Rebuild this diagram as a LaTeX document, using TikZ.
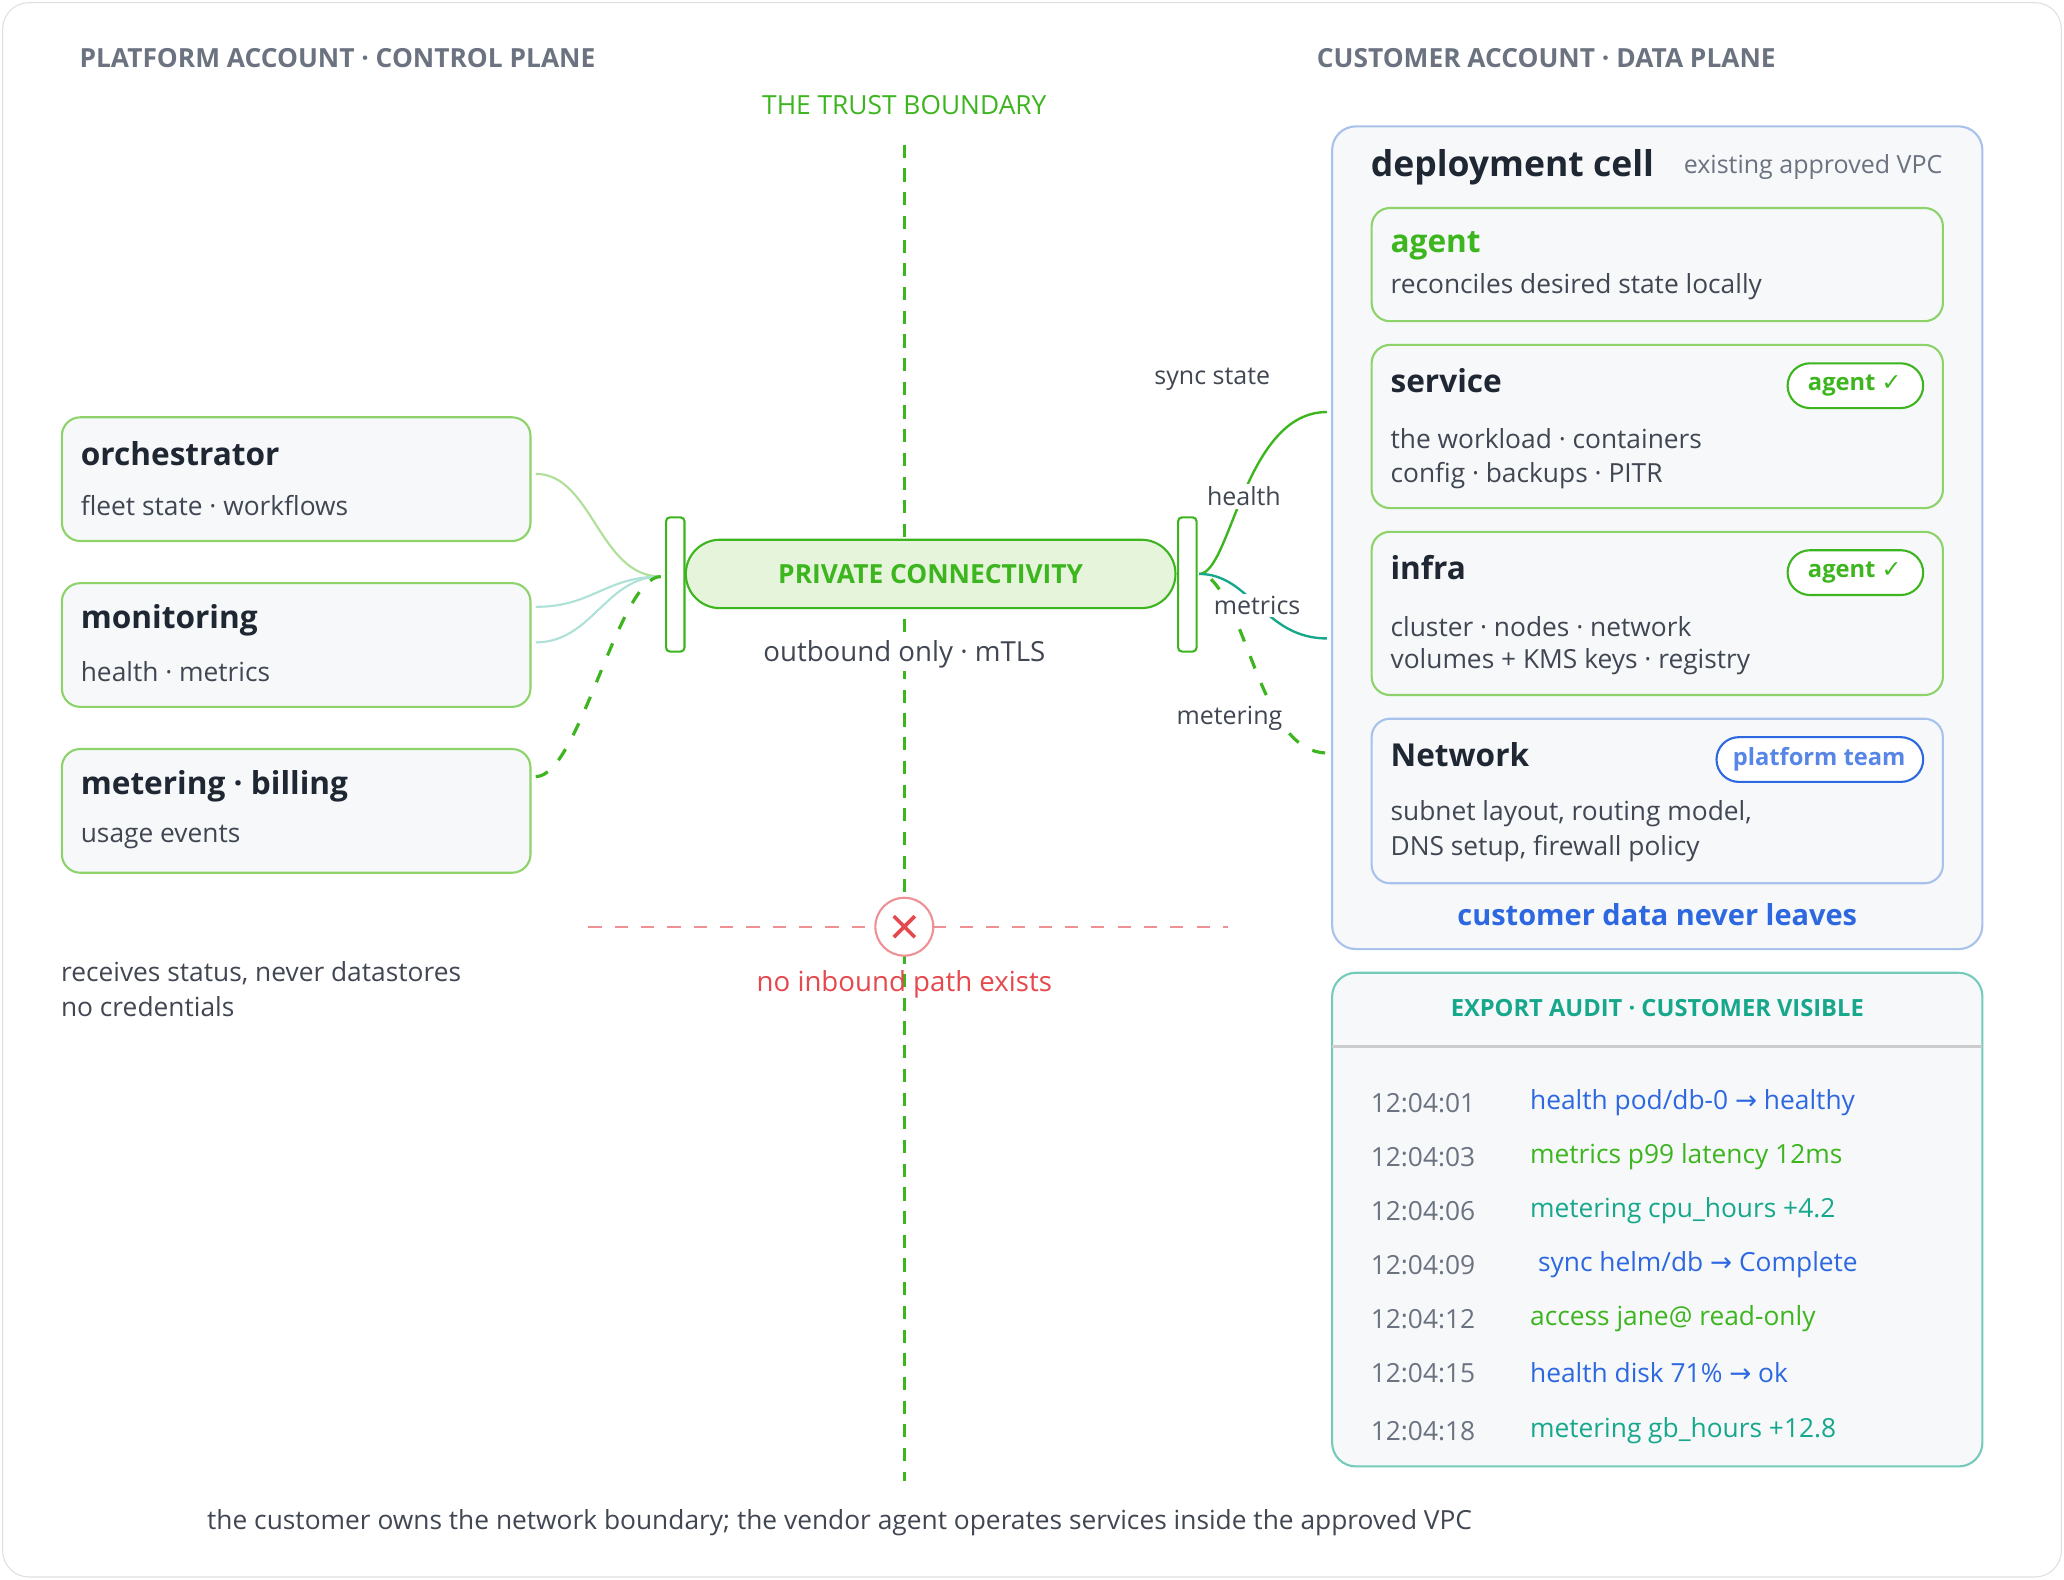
\documentclass[tikz,border=0pt]{standalone}
\usepackage{fontspec}
\setmainfont{Open Sans}
\newfontfamily\djv{DejaVu Sans}
\begin{document}
\definecolor{grn}{HTML}{3DB51E}
\definecolor{lgrn}{HTML}{8ED36A}
\definecolor{pgrn}{HTML}{E5F4DB}
\definecolor{teal}{HTML}{17A88C}
\definecolor{blu}{HTML}{2E68E0}
\definecolor{lblu}{HTML}{A9C2EC}
\definecolor{red1}{HTML}{E5484D}
\definecolor{gry}{HTML}{6B7280}
\definecolor{drk}{HTML}{1F2733}
\definecolor{bgb}{HTML}{F6F8FA}
\begin{tikzpicture}[x=0.5pt,y=-0.5pt,
  box/.style={draw=lgrn,line width=0.8pt,fill=bgb,rounded corners=7pt},
  ttl/.style={anchor=west,font=\bfseries\fontsize{12}{14}\selectfont,text=drk,inner sep=0},
  txt/.style={anchor=west,font=\fontsize{10}{12}\selectfont,text=drk!85,inner sep=0},
  hdr/.style={anchor=west,font=\bfseries\fontsize{10}{12}\selectfont,text=gry,inner sep=0},
  badge/.style={draw=grn,line width=0.8pt,fill=white,rounded corners=8.5pt},
  lbl/.style={font=\fontsize{9.5}{11}\selectfont,text=drk!85,inner sep=0},
  tm/.style={anchor=west,font=\fontsize{10}{12}\selectfont,text=gry,inner sep=0},
  ev/.style={anchor=west,font=\fontsize{10}{12}\selectfont,inner sep=0}]
\useasboundingbox (0,0) rectangle (1568,1200);
\draw[draw=gray!25,fill=white,rounded corners=10pt] (2,2) rectangle (1566,1198);
\node[hdr] (h1) at (60,44) {PLATFORM ACCOUNT · CONTROL PLANE};
\node[hdr] (h2) at (1000,44) {CUSTOMER ACCOUNT · DATA PLANE};
\node[font=\fontsize{10}{12}\selectfont,text=grn,inner sep=0] (tb) at (687,80) {THE TRUST BOUNDARY};
\coordinate (vt) at (687,110); \coordinate (vb) at (687,1125);
\draw[grn,dashed,line width=0.9pt,dash pattern=on 5pt off 4pt] (vt) -- (vb);
% left boxes
\draw[box] (47,317) rectangle (403,411);
\node[ttl] (o1) at (61,345) {orchestrator};
\node[txt] (o2) at (61,384) {fleet state · workflows};
\draw[box] (47,443) rectangle (403,537);
\node[ttl] (m1) at (61,471) {monitoring};
\node[txt] (m2) at (61,510) {health · metrics};
\draw[box] (47,569) rectangle (403,663);
\node[ttl] (b1) at (61,597) {metering · billing};
\node[txt] (b2) at (61,636) {usage events};
% left connectors
\coordinate (lg) at (502,438);
\draw[lgrn!70,line width=0.8pt] (407,360) .. controls (450,360) and (455,438) .. (lg);
\draw[teal!35,line width=0.8pt] (407,461) .. controls (450,461) and (460,438) .. (lg);
\draw[teal!35,line width=0.8pt] (407,488) .. controls (450,488) and (460,438) .. (lg);
\draw[grn,line width=1.2pt,dash pattern=on 5pt off 6pt] (407,590) .. controls (440,590) and (470,438) .. (lg);
% gates and pill
\draw[grn,line width=0.8pt,fill=white,rounded corners=1.5pt] (506,393) rectangle (520,495);
\draw[grn,line width=0.8pt,fill=white,rounded corners=1.5pt] (895,393) rectangle (909,495);
\node[draw=grn,line width=0.8pt,fill=pgrn,rounded corners=13pt,minimum width=186pt,minimum height=26pt,font=\bfseries\fontsize{10}{12}\selectfont,text=grn] (pc) at (707,436) {PRIVATE CONNECTIVITY};
\node[font=\fontsize{10.5}{12}\selectfont,text=drk!85,fill=white,inner sep=1pt] (ob) at (687,497) {outbound only · mTLS};
% right connectors
\coordinate (rg) at (911,436);
\draw[grn,line width=0.9pt] (rg) .. controls (935,436) and (945,313) .. (1008,313);
\draw[teal,line width=0.9pt] (rg) .. controls (950,436) and (960,485) .. (1008,485);
\draw[grn,line width=1.2pt,dash pattern=on 5pt off 6pt] (920,440) .. controls (950,470) and (960,572) .. (1008,572);
\node[lbl] (ls) at (921,288) {sync state};
\node[lbl,fill=white,inner sep=1pt] (lh) at (945,377) {health};
\node[lbl,fill=white,inner sep=1pt] (lm) at (955,460) {metrics};
\node[lbl,fill=white,inner sep=1pt] (lme) at (934,546) {metering};
% no inbound
\draw[red1!60,dashed,line width=0.8pt,dash pattern=on 5pt off 5pt] (447,704) -- (665,704);
\draw[red1!60,dashed,line width=0.8pt,dash pattern=on 5pt off 5pt] (709,704) -- (933,704);
\node[circle,draw=red1!60,line width=0.8pt,fill=white,minimum size=22pt] (x) at (687,704) {};
\draw[red1,line width=1.4pt] (679,696) -- (695,712) (695,696) -- (679,712);
\node[font=\fontsize{10.5}{12}\selectfont,text=red1,inner sep=0] (ni) at (687,748) {no inbound path exists};
\node[txt] (r1) at (46,739) {receives status, never datastores};
\node[txt] (r2) at (46,765) {no credentials};
% deployment cell
\draw[draw=lblu,line width=0.8pt,fill=bgb,rounded corners=9pt] (1012,96) rectangle (1506,721);
\node[anchor=west,font=\bfseries\fontsize{13.5}{15}\selectfont,text=drk,inner sep=0] (dc) at (1041,127) {deployment cell};
\node[anchor=east,font=\fontsize{9.5}{11}\selectfont,text=gry,inner sep=0] (ev) at (1476,127) {existing approved VPC};
\draw[box,fill=bgb] (1042,158) rectangle (1476,244);
\node[ttl,text=grn] (a1) at (1056,187) {agent};
\node[txt] (a2) at (1056,218) {reconciles desired state locally};
\draw[box] (1042,262) rectangle (1476,386);
\node[ttl] (s1) at (1056,289) {service};
\draw[badge] (1358,276) rectangle (1461,310);
\node[font=\bfseries\fontsize{9}{11}\selectfont,text=grn] (s0) at (1409,293) {agent {\djv ✓}};
\node[txt] (s2) at (1056,333) {the workload · containers};
\node[txt] (s3) at (1056,361) {config · backups · PITR};
\draw[box] (1042,404) rectangle (1476,528);
\node[ttl] (i1) at (1056,431) {infra};
\draw[badge] (1358,418) rectangle (1461,452);
\node[font=\bfseries\fontsize{9}{11}\selectfont,text=grn] (i0) at (1409,435) {agent {\djv ✓}};
\node[txt] (i2) at (1056,476) {cluster · nodes · network};
\node[txt] (i3) at (1056,503) {volumes + KMS keys · registry};
\draw[box,draw=lblu] (1042,546) rectangle (1476,671);
\node[ttl] (n1) at (1056,573) {Network};
\draw[badge,draw=blu] (1304,560) rectangle (1461,594);
\node[font=\bfseries\fontsize{9}{11}\selectfont,text=blu!80] (n0) at (1382,577) {platform team};
\node[txt] (n2) at (1056,618) {subnet layout, routing model,};
\node[txt] (n3) at (1056,645) {DNS setup, firewall policy};
\node[font=\bfseries\fontsize{11}{13}\selectfont,text=blu,inner sep=0] (cd) at (1259,695) {customer data never leaves};
% audit
\draw[draw=teal!60,line width=0.8pt,fill=bgb,rounded corners=9pt] (1012,739) rectangle (1506,1114);
\draw[gray!40,line width=0.8pt] (1012,795) -- (1506,795);
\node[font=\bfseries\fontsize{9}{11}\selectfont,text=teal,inner sep=0] (ah) at (1259,766) {EXPORT AUDIT · CUSTOMER VISIBLE};
\node[tm] (t1) at (1041,838) {12:04:01}; \node[ev,text=blu] (e1) at (1162,838) {health pod/db-0 {\djv →} healthy};
\node[tm] (t2) at (1041,879) {12:04:03}; \node[ev,text=grn] (e2) at (1162,879) {metrics p99 latency 12ms};
\node[tm] (t3) at (1041,920) {12:04:06}; \node[ev,text=teal] (e3) at (1162,920) {metering cpu\_hours +4.2};
\node[tm] (t4) at (1041,961) {12:04:09}; \node[ev,text=blu] (e4) at (1168,961) {sync helm/db {\djv →} Complete};
\node[tm] (t5) at (1041,1002) {12:04:12}; \node[ev,text=grn] (e5) at (1162,1002) {access jane@ read-only};
\node[tm] (t6) at (1041,1043) {12:04:15}; \node[ev,text=blu] (e6) at (1162,1043) {health disk 71\% {\djv →} ok};
\node[tm] (t7) at (1041,1087) {12:04:18}; \node[ev,text=teal] (e7) at (1162,1087) {metering gb\_hours +12.8};
\node[txt] (ft) at (157,1157) {the customer owns the network boundary; the vendor agent operates services inside the approved VPC};
\end{tikzpicture}
\end{document}
